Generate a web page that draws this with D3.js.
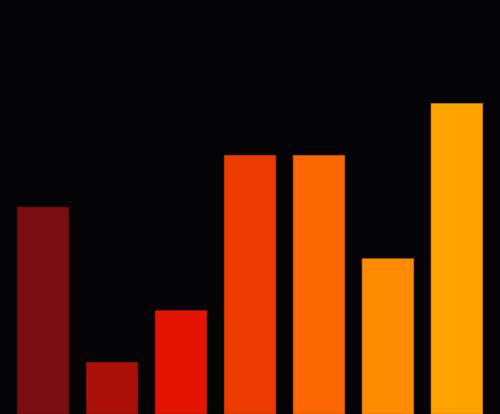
<!DOCTYPE html>
<html>
<head>
<meta charset="utf-8">
<script src="https://cdn.jsdelivr.net/npm/d3@7"></script>
<style>
	html, body { margin: 0; padding: 0; background: #040406; overflow: hidden; }
	svg { display: block; }
</style>
</head>
<body>
<svg width="500" height="414"></svg>
<script>
var categories = ['A', 'B', 'C', 'D', 'E', 'F', 'G'];
var values = [4, 1, 2, 5, 5, 3, 6];
var colors = ['#7a0e10', '#aa1009', '#e31400', '#ec3b00', '#fa6700', '#ff8c00', '#ffa200'];

var width = 500, height = 414;
var svg = d3.select('svg');

svg.append('rect')
	.attr('width', width)
	.attr('height', height)
	.attr('fill', '#040406');

var x = d3.scaleBand()
	.domain(categories)
	.range([0, width])
	.padding(0.25);

var y = d3.scaleLinear()
	.domain([0, 8])
	.range([height, 0]);

var color = d3.scaleOrdinal()
	.domain(categories)
	.range(colors);

svg.append('g').selectAll('rect')
	.data(values)
	.enter()
	.append('rect')
	.attr('x', function(d, i){ return x(categories[i]); })
	.attr('y', function(d){ return y(d); })
	.attr('width', x.bandwidth())
	.attr('height', function(d){ return height - y(d); })
	.attr('fill', function(d, i){ return color(categories[i]); })
	.attr('stroke', function(d, i){ return d3.color(color(categories[i])).darker(0.7); })
	.attr('stroke-width', 0.6);
</script>
</body>
</html>
